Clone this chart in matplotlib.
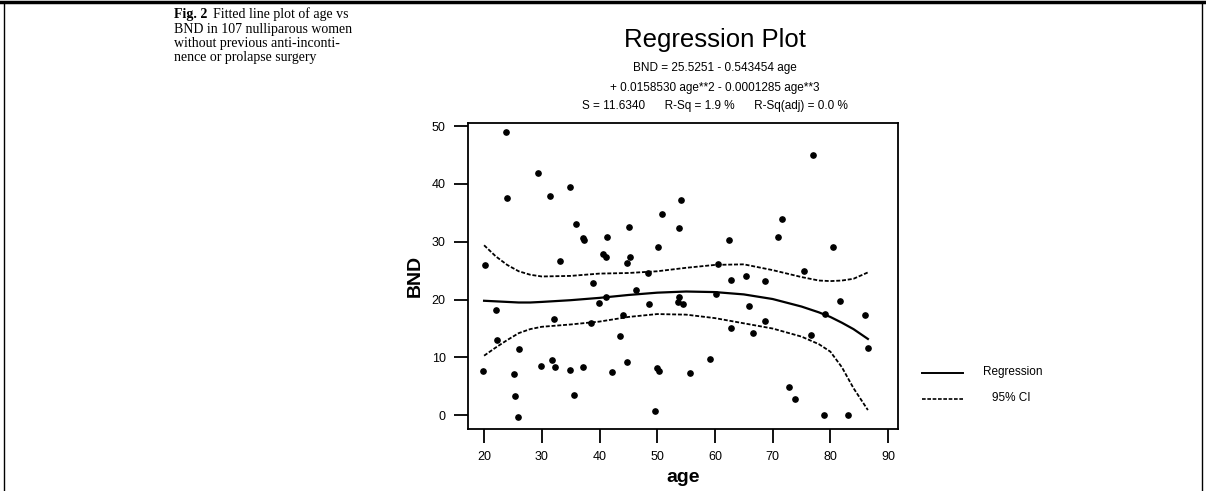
import matplotlib
matplotlib.use("Agg")
import matplotlib.pyplot as plt
from matplotlib.lines import Line2D
import numpy as np

# scatter points (age, BND)
age = [19.8, 20.2, 22.0, 22.2, 23.8, 23.9, 25.2, 25.4, 25.9, 26.0,
       29.3, 29.9, 31.5, 31.8, 32.1, 32.3, 33.1, 34.8, 34.8, 35.6,
       36.0, 37.1, 37.3, 37.1, 38.5, 38.9, 39.9, 40.6, 41.1, 41.3,
       41.2, 42.1, 43.6, 44.1, 44.7, 44.8, 45.1, 45.3, 46.4, 48.4,
       48.6, 49.7, 49.9, 50.2, 50.3, 50.9, 53.6, 53.8, 53.8, 54.1,
       54.5, 55.6, 59.1, 60.1, 60.5, 62.4, 62.7, 62.7, 65.3, 65.9,
       66.6, 68.6, 68.6, 70.9, 71.7, 72.9, 73.9, 75.5, 76.7, 77.0,
       78.9, 79.0, 80.4, 81.7, 83.1, 86.0, 86.6]
bnd = [7.7, 26.0, 18.2, 13.1, 49.0, 37.5, 7.1, 3.3, -0.3, 11.5,
       41.9, 8.5, 37.9, 9.6, 16.6, 8.3, 26.6, 39.5, 7.9, 3.5,
       33.0, 30.7, 30.3, 8.4, 16.0, 22.8, 19.4, 27.9, 27.3, 30.8,
       20.5, 7.4, 13.7, 17.4, 26.4, 9.2, 32.6, 27.3, 21.6, 24.6,
       19.3, 0.8, 8.2, 29.1, 7.6, 34.8, 19.5, 32.3, 20.5, 37.3,
       19.2, 7.3, 9.7, 20.9, 26.1, 30.3, 23.4, 15.1, 24.0, 18.9,
       14.2, 23.2, 16.3, 30.9, 34.0, 4.9, 2.8, 24.9, 13.8, 45.0,
       0.0, 17.5, 29.1, 19.8, 0.1, 17.4, 11.7]

# fitted line and 95% CI
fit_age = [20, 22, 24, 26, 28, 30, 35, 40, 45, 50, 55, 60, 65, 70, 75, 78, 80, 82, 84, 86.5]
fit_bnd = [19.8, 19.7, 19.6, 19.5, 19.5, 19.6, 19.9, 20.3, 20.8, 21.2,
           21.4, 21.3, 20.9, 20.1, 18.8, 17.8, 17.0, 16.0, 14.9, 13.2]
ci_low = [10.3, 11.7, 13.0, 14.2, 14.9, 15.3, 15.7, 16.2, 17.0, 17.5,
          17.4, 16.8, 15.9, 15.0, 13.6, 12.3, 11.0, 8.3, 4.7, 0.9]
ci_high = [29.4, 27.5, 26.0, 24.9, 24.3, 24.0, 24.1, 24.5, 24.6, 24.9,
           25.5, 26.0, 26.1, 25.1, 23.9, 23.3, 23.2, 23.3, 23.6, 24.7]

x_ticks = [20, 30, 40, 50, 60, 70, 80, 90]
y_ticks = [0, 10, 20, 30, 40, 50]

caption = ['BND in 107 nulliparous women',
           'without previous anti-inconti-',
           'nence or prolapse surgery']

sans = ['Liberation Sans', 'DejaVu Sans']
serif = ['Liberation Serif', 'DejaVu Serif']
dash = (0, (2.2, 1.0))

fig = plt.figure(figsize=(12.06, 4.91), dpi=100)
ax = fig.add_axes([0.388, 0.126, 0.357, 0.623])

ax.plot(age, bnd, 'o', color='black', markersize=3.8, zorder=3)
ax.plot(fit_age, fit_bnd, '-', color='black', lw=1.6)
ax.plot(fit_age, ci_low, color='black', lw=1.3, linestyle=dash)
ax.plot(fit_age, ci_high, color='black', lw=1.3, linestyle=dash)

ax.set_xlim(17.2, 91.8)
ax.set_ylim(-2.4, 50.5)
ax.set_xticks(x_ticks)
ax.set_yticks(y_ticks)
ax.tick_params(direction='out', length=10, width=1.3, labelsize=9, pad=6)
for lab in ax.get_xticklabels() + ax.get_yticklabels():
    lab.set_family(sans)
for sp in ax.spines.values():
    sp.set_linewidth(1.3)

ax.set_xlabel('age', family=sans, fontsize=14, fontweight='bold', labelpad=4)
ax.set_ylabel('BND', family=sans, fontsize=14, fontweight='bold', labelpad=6)

# title block
cx = 715 / 1206
fig.text(cx, 1 - 40 / 491, 'Regression Plot', family=sans, fontsize=18.5,
         ha='center', va='center')
fig.text(cx, 1 - 68 / 491, 'BND = 25.5251 - 0.543454 age', family=sans,
         fontsize=8.5, ha='center', va='center')
fig.text(cx, 1 - 88 / 491, '+ 0.0158530 age**2 - 0.0001285 age**3', family=sans,
         fontsize=8.5, ha='center', va='center')
fig.text(cx, 1 - 106 / 491, 'S = 11.6340      R-Sq = 1.9 %      R-Sq(adj) = 0.0 %',
         family=sans, fontsize=8.5, ha='center', va='center')

# legend drawn at the right
fig.add_artist(Line2D([922 / 1206, 963 / 1206], [1 - 373 / 491] * 2,
                      color='black', lw=1.4, transform=fig.transFigure))
fig.add_artist(Line2D([922 / 1206, 963 / 1206], [1 - 399 / 491] * 2,
                      color='black', lw=1.2, linestyle=dash, transform=fig.transFigure))
fig.text(1013 / 1206, 1 - 372 / 491, 'Regression', family=sans, fontsize=8.5,
         ha='center', va='center')
fig.text(1011 / 1206, 1 - 398 / 491, '95% CI', family=sans, fontsize=8.5,
         ha='center', va='center')

# caption at top left
cap_x = 174 / 1206
fig.text(cap_x, 1 - 18 / 491, 'Fig. 2', family=serif, fontsize=10,
         fontweight='bold', ha='left', va='baseline')
fig.text(cap_x + 39 / 1206, 1 - 18 / 491, 'Fitted line plot of age vs', family=serif,
         fontsize=10, ha='left', va='baseline')
for i, line in enumerate(caption):
    fig.text(cap_x, 1 - (32.5 + 14.5 * i) / 491, line, family=serif,
             fontsize=10, ha='left', va='baseline')

# page frame
fig.add_artist(Line2D([0, 1], [0.995, 0.995], color='black', lw=2.5,
                      transform=fig.transFigure))
fig.add_artist(Line2D([0.003, 0.003], [0, 0.995], color='black', lw=1.0,
                      transform=fig.transFigure))
fig.add_artist(Line2D([0.997, 0.997], [0, 0.995], color='black', lw=1.0,
                      transform=fig.transFigure))

fig.savefig('out.png', dpi=100)
